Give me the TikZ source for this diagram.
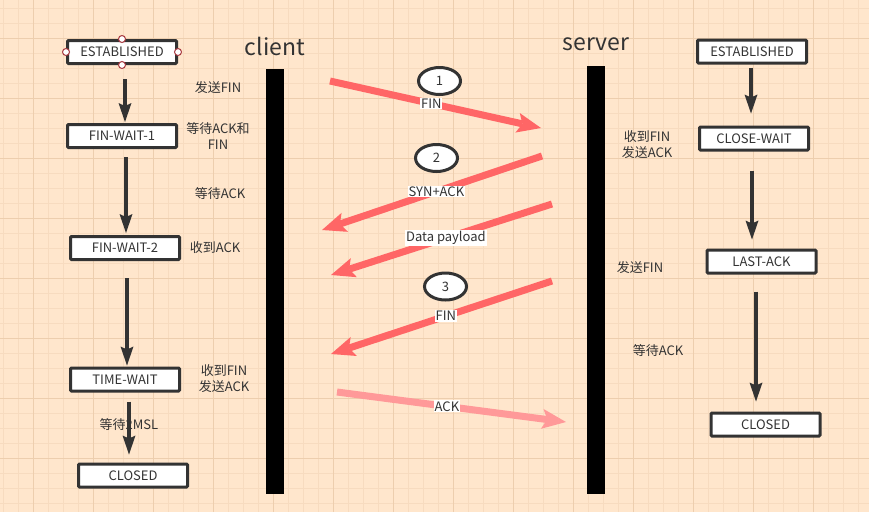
\documentclass[tikz,border=0pt]{standalone}
\usepackage{fontspec}
\setmainfont{Noto Sans CJK SC}
\usetikzlibrary{arrows.meta,shapes.geometric}

\definecolor{paper}{HTML}{FFE6CC}
\definecolor{gridminor}{HTML}{F7DBBF}
\definecolor{gridmajor}{HTML}{EDCEAE}
\definecolor{ink}{HTML}{333333}
\definecolor{msgred}{HTML}{FF6666}
\definecolor{msgpink}{HTML}{FF9999}
\definecolor{handle}{HTML}{A8383F}

\begin{document}
\begin{tikzpicture}[x=1pt, y=-1pt,
  every node/.style={text=ink, font=\fontsize{13}{16}\selectfont},
  state/.style={draw=ink, line width=3pt, fill=white, rounded corners=1pt,
    minimum width=109pt, minimum height=23pt, inner sep=0pt},
  seq/.style={ellipse, draw=ink, line width=3pt, fill=white,
    minimum width=42pt, minimum height=27pt, inner sep=0pt},
  side/.style={font=\fontsize{23}{26}\selectfont},
  note/.style={align=center},
  tag/.style={fill=white, inner sep=1pt},
  bar/.style={fill=black, inner sep=0pt, minimum width=18pt},
  flow/.style={draw=ink, line width=4pt,
    -{Stealth[length=19pt, width=13pt, inset=3pt, line width=0pt]}},
  msg/.style={draw=msgred, line width=7pt,
    -{Stealth[length=24pt, width=20pt, inset=5pt, line width=0pt]}},
  grip/.style={circle, draw=handle, fill=white, line width=1pt, inner sep=0pt, minimum size=7pt}
]

\useasboundingbox (0,0) rectangle (869,512);
\fill[paper] (0,0) rectangle (869,512);

% grid
\foreach \gx in {3,18,...,858} \draw[gridminor, line width=1pt] (\gx,0) -- (\gx,512);
\foreach \gy in {8,23,...,503} \draw[gridminor, line width=1pt] (0,\gy) -- (869,\gy);
\foreach \gx in {33,93,...,813} \draw[gridmajor, line width=1pt] (\gx,0) -- (\gx,512);
\foreach \gy in {38,98,...,458} \draw[gridmajor, line width=1pt] (0,\gy) -- (869,\gy);

% life lines
\node[side] (client_lbl) at (275, 46) {client};
\node[side] (server_lbl) at (596, 44) {server};
\node[bar, minimum height=425pt] (client_bar) at (275, 281.5) {};
\node[bar, minimum height=428pt] (server_bar) at (596, 280) {};

% client states
\node[state] (c_established) at (122, 52) {ESTABLISHED};
\node[state] (c_finwait1) at (122, 136) {FIN-WAIT-1};
\node[state] (c_finwait2) at (125, 248) {FIN-WAIT-2};
\node[state] (c_timewait) at (125, 379.5) {TIME-WAIT};
\node[state] (c_closed) at (133, 475.5) {CLOSED};

% server states
\node[state] (s_established) at (752, 51.5) {ESTABLISHED};
\node[state] (s_closewait) at (754, 138.5) {CLOSE-WAIT};
\node[state] (s_lastack) at (761.5, 261.5) {LAST-ACK};
\node[state] (s_closed) at (765.5, 424.5) {CLOSED};

% client notes
\node[note] (c_note1) at (218, 88) {发送FIN};
\node[note] (c_note2) at (218, 136) {等待ACK和\\FIN};
\node[note] (c_note3) at (220, 194) {等待ACK};
\node[note] (c_note4) at (215, 248) {收到ACK};
\node[note] (c_note5) at (224, 379) {收到FIN\\发送ACK};
\node[note] (c_note6) at (129, 425) {等待2MSL};

% server notes
\node[note] (s_note1) at (647, 145) {收到FIN\\发送ACK};
\node[note] (s_note2) at (640, 268) {发送FIN};
\node[note] (s_note3) at (658, 351) {等待ACK};

% state changes
\draw[flow] ([xshift=3pt, yshift=-14pt]c_established.south) -- ([xshift=3pt, yshift=1pt]c_finwait1.north);
\draw[flow] ([xshift=4pt, yshift=-8pt]c_finwait1.south) -- ([xshift=1pt, yshift=2pt]c_finwait2.north);
\draw[flow] ([xshift=2pt, yshift=-17pt]c_finwait2.south) -- ([xshift=2pt, yshift=1pt]c_timewait.north);
\draw[flow] ([xshift=4pt, yshift=-9pt]c_timewait.south) -- ([xshift=-4pt, yshift=8pt]c_closed.north);

\draw[flow] ([xshift=-1pt, yshift=-3pt]s_established.south) -- ([xshift=-3pt, yshift=12pt]s_closewait.north);
\draw[flow] ([xshift=-2pt, yshift=-19pt]s_closewait.south) -- ([xshift=-9.5pt, yshift=9pt]s_lastack.north);
\draw[flow] ([xshift=-5.5pt, yshift=-17pt]s_lastack.south) -- ([xshift=-9.5pt, yshift=10pt]s_closed.north);

% messages
\coordinate (fin_c) at (330, 81);
\coordinate (fin_s) at (541, 128);
\coordinate (synack_s) at (542, 156);
\coordinate (synack_c) at (322, 230);
\coordinate (data_s) at (552, 204);
\coordinate (data_c) at (331, 275);
\coordinate (fin2_s) at (552, 281);
\coordinate (fin2_c) at (331, 354);
\coordinate (ack_c) at (337, 392);
\coordinate (ack_s) at (566, 422);

\draw[msg] (fin_c) -- (fin_s) node[tag, pos=0.48] (fin_tag) {FIN};
\draw[msg] (synack_s) -- (synack_c) node[tag, pos=0.48] (synack_tag) {SYN+ACK};
\draw[msg] (data_s) -- (data_c) node[tag, pos=0.48] (data_tag) {Data payload};
\draw[msg] (fin2_s) -- (fin2_c) node[tag, pos=0.48] (fin2_tag) {FIN};
\draw[msg, draw=msgpink] (ack_c) -- (ack_s) node[tag, pos=0.48] (ack_tag) {ACK};

% steps
\node[seq] (step_one) at (439.5, 81) {1};
\node[seq] (step_two) at (436.5, 158) {2};
\node[seq] (step_three) at (445.5, 286.5) {3};

% selection grips
\node[grip] (grip_n) at (c_established.north) {};
\node[grip] (grip_s) at (c_established.south) {};
\node[grip] (grip_w) at (c_established.west) {};
\node[grip] (grip_e) at (c_established.east) {};

\end{tikzpicture}
\end{document}
